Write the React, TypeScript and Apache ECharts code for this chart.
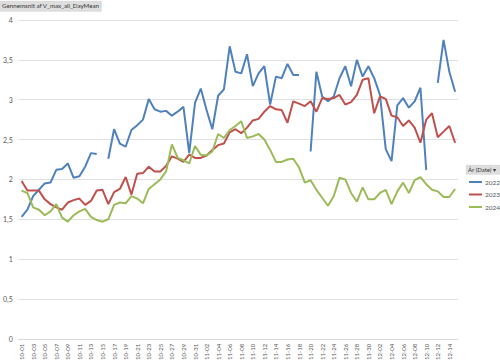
import React, { useEffect, useRef } from "react";
import * as echarts from "echarts";

// Categories: 10-01 .. 12-15
const months = [
  { m: "10", days: 31 },
  { m: "11", days: 30 },
  { m: "12", days: 15 },
];
const categories: string[] = [];
months.forEach(({ m, days }) => {
  for (let d = 1; d <= days; d++) categories.push(`${m}-${d < 10 ? "0" + d : d}`);
});

const yTicks = [0, 0.5, 1, 1.5, 2, 2.5, 3, 3.5, 4];

const s2022: (number | null)[] = [
  1.53, 1.62, 1.79, 1.87, 1.95, 1.96, 2.12, 2.13, 2.2, 2.02,
  2.04, 2.16, 2.33, 2.32, null, 2.26, 2.63, 2.45, 2.41, 2.62,
  2.68, 2.75, 3.01, 2.88, 2.85, 2.86, 2.8, 2.85, 2.91, 2.33,
  2.96, 3.14, 2.87, 2.63, 3.05, 3.13, 3.67, 3.35, 3.33, 3.57,
  3.17, 3.33, 3.42, 2.94, 3.29, 3.27, 3.45, 3.31, 3.31, null,
  2.35, 3.35, 3.04, 2.98, 3.04, 3.27, 3.42, 3.17, 3.5, 3.29,
  3.42, 3.27, 3.06, 2.38, 2.23, 2.93, 3.02, 2.9, 2.98, 3.15,
  2.12, null, 3.21, 3.75, 3.35, 3.1,
];

const s2023: number[] = [
  1.98, 1.86, 1.86, 1.86, 1.75, 1.69, 1.65, 1.62, 1.71, 1.74,
  1.76, 1.68, 1.73, 1.86, 1.87, 1.69, 1.84, 1.88, 2.03, 1.81,
  2.07, 2.08, 2.16, 2.1, 2.1, 2.17, 2.29, 2.26, 2.22, 2.31,
  2.27, 2.27, 2.3, 2.37, 2.43, 2.45, 2.59, 2.63, 2.58, 2.65,
  2.74, 2.76, 2.85, 2.92, 2.88, 2.87, 2.71, 2.98, 2.95, 2.92,
  2.98, 2.85, 3.02, 3.01, 3.02, 3.06, 2.94, 2.97, 3.06, 3.25,
  3.27, 2.83, 3.04, 3.01, 2.8, 2.78, 2.67, 2.74, 2.65, 2.46,
  2.75, 2.83, 2.53, 2.6, 2.67, 2.46,
];

const s2024: number[] = [
  1.86, 1.83, 1.65, 1.62, 1.55, 1.6, 1.69, 1.52, 1.47, 1.55,
  1.6, 1.63, 1.53, 1.49, 1.47, 1.5, 1.68, 1.71, 1.7, 1.79,
  1.76, 1.7, 1.88, 1.94, 2.0, 2.1, 2.44, 2.27, 2.24, 2.2,
  2.42, 2.31, 2.3, 2.35, 2.57, 2.52, 2.62, 2.67, 2.73, 2.52,
  2.54, 2.57, 2.5, 2.37, 2.22, 2.22, 2.25, 2.26, 2.15, 1.96,
  1.99, 1.87, 1.77, 1.67, 1.79, 2.02, 2.0, 1.83, 1.72, 1.9,
  1.75, 1.75, 1.83, 1.87, 1.69, 1.85, 1.96, 1.83, 1.99, 2.03,
  1.94, 1.87, 1.85, 1.78, 1.78, 1.88,
];

const seriesNames = ["2022", "2023", "2024"];
const colors = ["#4F81BD", "#C0504D", "#9BBB59"];
const fieldTitle = "Gennemsnit af V_max_all_DayMean";
const legendTitle = "År (Date) ▾";

const FONT = "Lato, 'Open Sans', sans-serif";

export default function App() {
  const ref = useRef<HTMLDivElement>(null);
  useEffect(() => {
    if (!ref.current) return;
    const chart = echarts.init(ref.current, undefined, { renderer: "svg" });
    const data = [s2022, s2023, s2024];
    chart.setOption({
      animation: false,
      textStyle: { fontFamily: FONT },
      grid: { left: 15, right: 42, top: 20, bottom: 23, containLabel: false },
      xAxis: {
        type: "category",
        data: categories,
        boundaryGap: true,
        axisTick: { show: false },
        axisLine: { lineStyle: { color: "#d9d9d9", width: 1 } },
        axisLabel: {
          interval: 1,
          rotate: 90,
          fontSize: 6,
          color: "#595959",
          margin: 5,
          fontFamily: FONT,
        },
      },
      yAxis: {
        type: "value",
        min: yTicks[0],
        max: yTicks[yTicks.length - 1],
        interval: 0.5,
        axisLine: { show: false },
        axisTick: { show: false },
        splitLine: { lineStyle: { color: "#e0e0e0", width: 1 } },
        axisLabel: {
          fontSize: 7,
          color: "#595959",
          margin: 6,
          fontFamily: FONT,
          formatter: (v: number) => String(v).replace(".", ","),
        },
      },
      legend: {
        orient: "vertical",
        left: 469,
        top: 178,
        padding: 0,
        icon: "rect",
        itemWidth: 13,
        itemHeight: 2,
        itemGap: 4.5,
        textStyle: { fontSize: 6.5, color: "#595959", lineHeight: 8, fontFamily: FONT, padding: [0, 0, 0, -2] },
        data: seriesNames,
      },
      series: seriesNames.map((name, k) => ({
        name,
        type: "line",
        data: data[k],
        showSymbol: false,
        symbol: "none",
        connectNulls: false,
        lineStyle: { color: colors[k], width: 2 },
        itemStyle: { color: colors[k] },
      })),
      graphic: [
        {
          type: "rect",
          left: 0,
          top: 1,
          shape: { width: 101, height: 10 },
          style: { fill: "#dedede", stroke: "#c8c8c8", lineWidth: 0.5 },
        },
        {
          type: "text",
          left: 2,
          top: 2.5,
          style: { text: fieldTitle, fontSize: 6.2, fill: "#333333", fontFamily: FONT },
        },
        {
          type: "rect",
          left: 466,
          top: 165,
          shape: { width: 34, height: 9 },
          style: { fill: "#dedede", stroke: "#c8c8c8", lineWidth: 0.5 },
        },
        {
          type: "text",
          left: 468,
          top: 166.5,
          style: { text: legendTitle, fontSize: 6, fill: "#333333", fontFamily: FONT },
        },
      ],
    });
    return () => chart.dispose();
  }, []);
  return (
    <div
      ref={ref}
      style={{ position: "absolute", left: 0, top: 0, width: 500, height: 363 }}
    />
  );
}
